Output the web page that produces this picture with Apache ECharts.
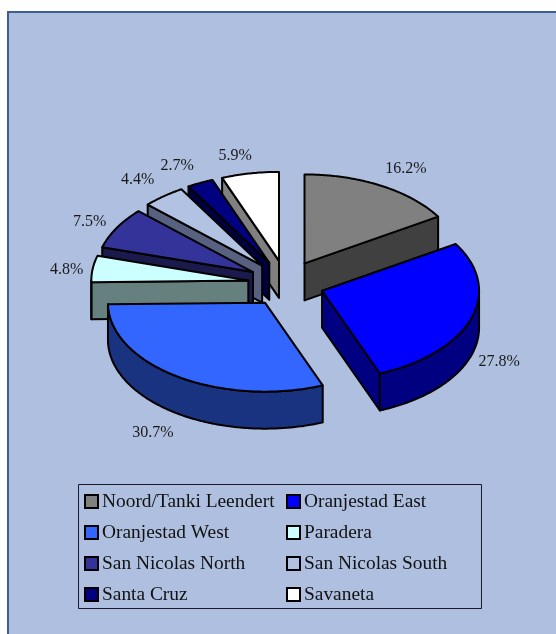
<!DOCTYPE html>
<html>
<head>
<meta charset="utf-8">
<style>html,body{margin:0;padding:0;background:#fff}#c{width:556px;height:634px}</style>
<script src="https://cdn.jsdelivr.net/npm/echarts@6/dist/echarts.min.js"></script>
</head>
<body>
<div id="c"></div>
<script>
// Data
const categories = ['Noord/Tanki Leendert','Oranjestad East','Oranjestad West','Paradera','San Nicolas North','San Nicolas South','Santa Cruz','Savaneta'];
const shares = [16.2,27.8,30.7,4.8,7.5,4.4,2.7,5.9];
// Styles
const topColors = ['#808080','#0000FF','#3366FF','#CCFFFF','#333399','#B2C2E2','#000080','#FFFFFF'];
const wallColors = ['#404040','#000080','#1A3380','#668080','#1A1A4D','#596180','#000040','#808080'];
// Label nudges from each slice's arc midpoint
const labelNudges = [[25,-17],[28,43],[-25,56],[-26,1],[-27,-6],[-26,-17],[-23,-17],[-15,-18]];

// Projection of the tilted pie
const CX = 286, CY = 283.5, RX = 157, RY = 89, DEPTH = 37, EX = 38, EY = 23;
const BG = '#AEBFDF', FRAME = '#3F5C94', INK = '#000';
const total = shares.reduce((a, b) => a + b, 0);
const rad = d => d * Math.PI / 180;
let acc = 0;
const slices = shares.map((v, i) => {
  const a0 = acc / total * 360; acc += v; const a1 = acc / total * 360;
  const m = (a0 + a1) / 2;
  const ax = CX + EX * Math.sin(rad(m)), ay = CY - EY * Math.cos(rad(m));
  return { i, a0, a1, m, ax, ay };
});
const rank = slices.slice().sort((p, q) => p.ay - q.ay).map(s => s.i);

function rim(s, from, to, dy) {
  const n = Math.max(2, Math.ceil((to - from) * 1.5)), pts = [];
  for (let k = 0; k <= n; k++) {
    const t = rad(from + (to - from) * k / n);
    pts.push([s.ax + RX * Math.sin(t), s.ay - RY * Math.cos(t) + dy]);
  }
  return pts;
}
function poly(points, fill) {
  return { type: 'polygon', shape: { points },
    style: { fill, stroke: INK, lineWidth: 2, lineJoin: 'round' } };
}
function renderSlice(s) {
  const kids = [], wall = wallColors[s.i];
  const radial = a => {
    const e = rim(s, a, a, 0)[0];
    kids.push(poly([[s.ax, s.ay], e, [e[0], e[1] + DEPTH], [s.ax, s.ay + DEPTH]], wall));
  };
  if (s.a0 > 180) radial(s.a0);
  if (s.a1 < 180) radial(s.a1);
  const f = Math.max(s.a0, 90), t = Math.min(s.a1, 270);
  if (f < t) kids.push(poly(rim(s, f, t, 0).concat(rim(s, f, t, DEPTH).reverse()), wall));
  kids.push(poly([[s.ax, s.ay]].concat(rim(s, s.a0, s.a1, 0)), topColors[s.i]));
  const n = labelNudges[s.i], p = rim(s, s.m, s.m, 0)[0];
  kids.push({ type: 'text', z2: 50, style: {
    x: p[0] + n[0], y: p[1] + n[1], text: shares[s.i].toFixed(1) + '%',
    fill: '#1a1a1a', font: '16px "Liberation Serif"', align: 'center', verticalAlign: 'middle' } });
  return { type: 'group', children: kids };
}
const series = slices.map(s => ({
  type: 'custom', name: categories[s.i], coordinateSystem: 'none',
  z: 2 + rank.indexOf(s.i), silent: true, animation: false,
  itemStyle: { color: topColors[s.i] },
  data: [[shares[s.i]]],
  renderItem: () => renderSlice(s)
}));
const legendEntry = i => ({ name: categories[i], icon: 'rect',
  itemStyle: { color: topColors[i], borderColor: INK, borderWidth: 2 } });
const legendBase = { orient: 'vertical', itemWidth: 13, itemHeight: 13, itemGap: 12, padding: 0,
  selectedMode: false, inactiveColor: INK,
  textStyle: { fontFamily: 'Liberation Serif', fontSize: 19.4, color: '#111', padding: [0,0,0,-1], lineHeight: 17 } };

const chart = echarts.init(document.getElementById('c'), null, { renderer: 'canvas' });
chart.setOption({
  animation: false,
  backgroundColor: '#fff',
  graphic: [
    { type: 'rect', z: -1, shape: { x: 8, y: 12, width: 600, height: 660 },
      style: { fill: BG, stroke: FRAME, lineWidth: 2 } },
    { type: 'rect', z: 1, shape: { x: 78.5, y: 484.5, width: 403, height: 124 },
      style: { fill: 'none', stroke: '#1a1a2a', lineWidth: 1 } }
  ],
  legend: [
    Object.assign({}, legendBase, { left: 84, top: 492, data: [0,2,4,6].map(legendEntry) }),
    Object.assign({}, legendBase, { left: 286, top: 492, data: [1,3,5,7].map(legendEntry) })
  ],
  series
});
</script>
</body>
</html>
